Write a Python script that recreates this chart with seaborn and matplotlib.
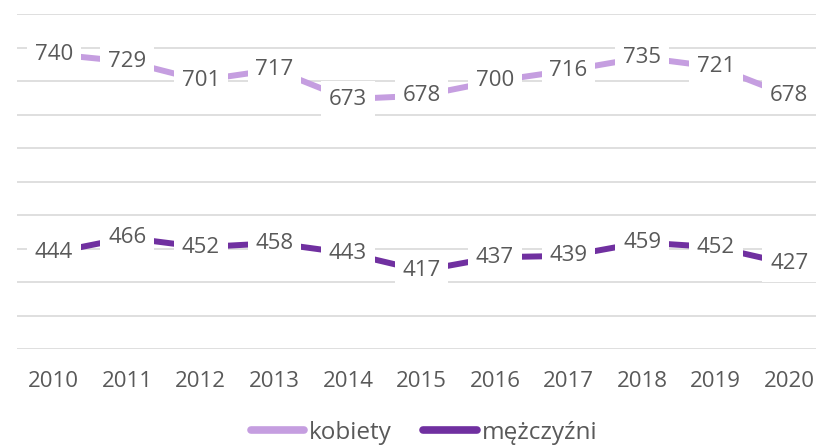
import pandas as pd
import matplotlib.pyplot as plt
import seaborn as sns

years = [2010, 2011, 2012, 2013, 2014, 2015, 2016, 2017, 2018, 2019, 2020]
kobiety = [740, 729, 701, 717, 673, 678, 700, 716, 735, 721, 678]
mezczyzni = [444, 466, 452, 458, 443, 417, 437, 439, 459, 452, 427]
series_names = ["kobiety", "mężczyźni"]
colors = ["#C59EE0", "#7030A0"]

df = pd.DataFrame({
    "rok": years * 2,
    "wartosc": kobiety + mezczyzni,
    "seria": [series_names[0]] * len(years) + [series_names[1]] * len(years),
})

sns.set_theme(style="white")
plt.rcParams["font.family"] = ["Open Sans", "DejaVu Sans"]
text_color = "#595959"

fig = plt.figure(figsize=(8.16, 4.46), dpi=100)
ax = fig.add_axes([17 / 816, 97 / 446, 809 / 816, 335 / 446])

sns.lineplot(data=df, x="rok", y="wartosc", hue="seria", palette=colors,
             linewidth=4.3, ax=ax, zorder=2, legend=True)

# data labels with white boxes covering the line
for vals in (kobiety, mezczyzni):
    for x, v in zip(years, vals):
        ax.text(x, v, str(v), ha="center", va="center", fontsize=16,
                color=text_color, zorder=3,
                bbox=dict(boxstyle="square,pad=0.35", fc="white", ec="none"))

ax.set_xlim(2009.5, 2020.5)
ax.set_ylim(300, 800)
ax.set_yticks(range(300, 801, 50))
ax.set_xticks(years)
ax.set_xticklabels([str(y) for y in years])
ax.tick_params(axis="x", length=0, pad=16, labelsize=16, labelcolor=text_color)
ax.tick_params(axis="y", left=False, labelleft=False)
ax.set_xlabel("")
ax.set_ylabel("")
ax.grid(axis="y", color="#D9D9D9", linewidth=1.2, zorder=0)
ax.grid(axis="x", visible=False)
for s in ax.spines.values():
    s.set_visible(False)

handles, labels = ax.get_legend_handles_labels()
for h in handles:
    h.set_linewidth(5.5)
    h.set_solid_capstyle("round")
leg = ax.legend(handles, labels, loc="center", ncol=2, frameon=False,
                fontsize=17.5, handlelength=2.2, handletextpad=0.2, columnspacing=1.3)
leg.set_bbox_to_anchor((424 / 816, 13 / 446), transform=fig.transFigure)
for t in leg.get_texts():
    t.set_color(text_color)

fig.savefig("out.png", dpi=100)
